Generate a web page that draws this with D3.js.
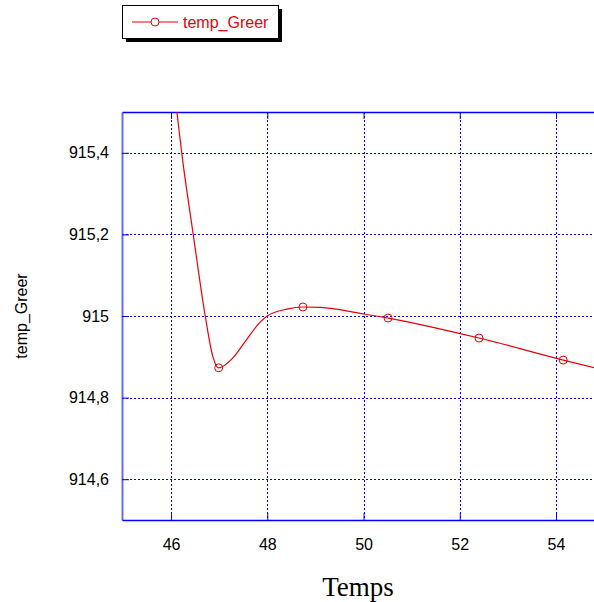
<!DOCTYPE html>
<html><head><meta charset="utf-8">
<script src="https://cdn.jsdelivr.net/npm/d3@7"></script>
<style>body{margin:0;background:#fff}svg{display:block}</style>
</head><body>
<script>
const seriesName = "temp_Greer";
const xTitle = "Temps";
const curveX = [45.9, 46.12, 46.22, 46.46, 46.71, 46.87, 46.99, 47.29, 47.58, 47.85, 48.0, 48.41, 48.74, 49.10, 50.0, 50.51, 52.40, 54.15, 54.9];
const curveY = [915.72, 915.502, 915.401, 915.2, 915.0, 914.900, 914.873, 914.898, 914.944, 914.985, 915.0, 915.017, 915.022, 915.021, 915.005, 914.995, 914.946, 914.892, 914.870];
const markerX = [46.99, 48.74, 50.51, 52.40, 54.15];
const markerY = [914.873, 915.022, 914.995, 914.946, 914.892];
const xTicks = [46, 48, 50, 52, 54];
const yTicks = [914.6, 914.8, 915, 915.2, 915.4];

const W = 594, H = 602;
const L = 122, T = 112, R = 594, B = 520;
const svg = d3.select("body").append("svg").attr("width", W).attr("height", H);
const x = d3.scaleLinear().domain([44.98, 54.79]).range([L, R]);
const y = d3.scaleLinear().domain([914.5, 915.5]).range([B, T]);
const blue = "#0000ff", red = "#e8000b";
const sans = "Liberation Sans, Arial, sans-serif";
const fmt = d => String(+d.toFixed(1)).replace(".", ",");

// grid
svg.append("g").selectAll("line").data(yTicks).join("line")
  .attr("x1", L).attr("x2", R).attr("y1", d => Math.round(y(d)) + 0.5).attr("y2", d => Math.round(y(d)) + 0.5)
  .attr("stroke", blue).attr("stroke-dasharray", "2,2");
svg.append("g").selectAll("line").data(xTicks).join("line")
  .attr("y1", T).attr("y2", B).attr("x1", d => Math.round(x(d)) + 0.5).attr("x2", d => Math.round(x(d)) + 0.5)
  .attr("stroke", blue).attr("stroke-dasharray", "2,2");

// axes
const yAxis = d3.axisLeft(y).tickValues(yTicks).tickSize(-7).tickSizeOuter(0).tickPadding(13).tickFormat(fmt);
const gy = svg.append("g").attr("transform", `translate(${L},0)`).call(yAxis);
gy.select(".domain").attr("stroke", "#6a6aee").attr("stroke-width", 2);
gy.selectAll(".tick line").attr("stroke", blue);
gy.selectAll("text").attr("font-family", sans).attr("font-size", 16).attr("fill", "#000");

const xAxis = d3.axisBottom(x).tickValues(xTicks).tickSize(-7).tickSizeOuter(0).tickPadding(19).tickFormat(d3.format("d"));
const gx = svg.append("g").attr("transform", `translate(0,${B})`).call(xAxis);
gx.select(".domain").attr("stroke", blue).attr("stroke-width", 1.5);
gx.selectAll(".tick line").attr("stroke", blue);
gx.selectAll("text").attr("font-family", sans).attr("font-size", 16).attr("fill", "#000");

const xTop = d3.axisTop(x).tickValues(xTicks).tickSize(-7).tickSizeOuter(0).tickFormat("");
const gt = svg.append("g").attr("transform", `translate(0,${T})`).call(xTop);
gt.select(".domain").attr("stroke", blue).attr("stroke-width", 1.5);
gt.selectAll(".tick line").attr("stroke", blue);

// curve
svg.append("clipPath").attr("id", "clip").append("rect").attr("x", L).attr("y", T).attr("width", R - L).attr("height", B - T);
const pts = curveX.map((v, i) => [v, curveY[i]]);
const line = d3.line().x(d => x(d[0])).y(d => y(d[1])).curve(d3.curveMonotoneX);
svg.append("path").attr("clip-path", "url(#clip)").attr("d", line(pts))
  .attr("fill", "none").attr("stroke", red).attr("stroke-width", 1.2);
svg.append("g").attr("clip-path", "url(#clip)").selectAll("circle").data(markerX).join("circle")
  .attr("cx", d => x(d)).attr("cy", (d, i) => y(markerY[i])).attr("r", 4)
  .attr("fill", "none").attr("stroke", red).attr("stroke-width", 1);

// titles
svg.append("text").attr("transform", `translate(27,${(T + B) / 2}) rotate(-90)`).attr("text-anchor", "middle")
  .attr("font-family", sans).attr("font-size", 16).text(seriesName);
svg.append("text").attr("x", (L + R) / 2).attr("y", 596).attr("text-anchor", "middle")
  .attr("font-family", "Liberation Serif, Times New Roman, serif").attr("font-size", 27).text(xTitle);

// legend
const lg = svg.append("g");
lg.append("rect").attr("x", 126).attr("y", 9).attr("width", 156).attr("height", 33).attr("fill", "#000");
lg.append("rect").attr("x", 122.5).attr("y", 5.5).attr("width", 156).attr("height", 33).attr("fill", "#fff").attr("stroke", "#000");
lg.append("line").attr("x1", 132).attr("x2", 178).attr("y1", 22).attr("y2", 22).attr("stroke", red).attr("stroke-width", 1.2);
lg.append("circle").attr("cx", 155).attr("cy", 22).attr("r", 4).attr("fill", "#fff").attr("stroke", red);
lg.append("text").attr("x", 183).attr("y", 28).attr("font-family", sans).attr("font-size", 16)
  .attr("fill", red).text(seriesName);
</script>
</body></html>
